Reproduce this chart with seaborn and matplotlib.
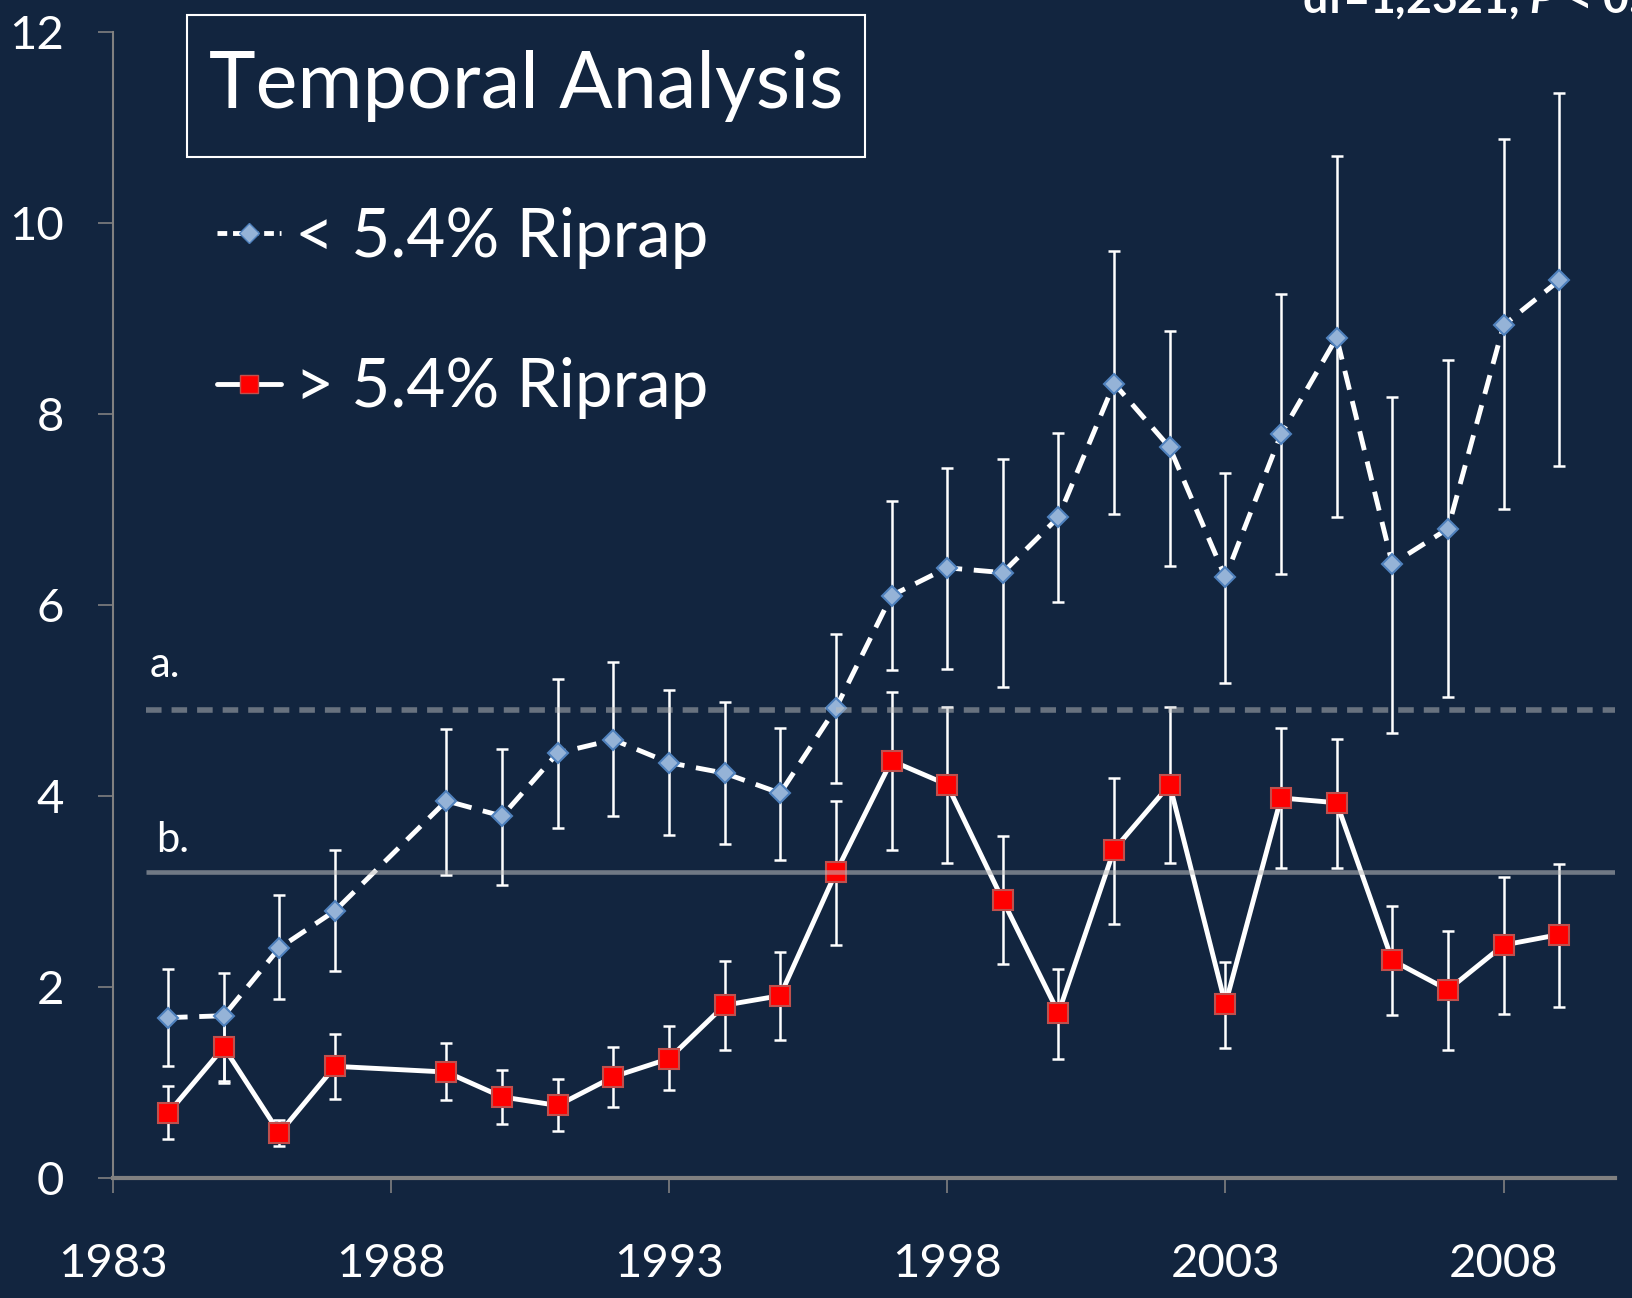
"""Temporal analysis chart: mean values by year for low vs high riprap shorelines."""
import matplotlib

matplotlib.use("Agg")
import matplotlib.pyplot as plt
import numpy as np
import pandas as pd
import seaborn as sns
from matplotlib.lines import Line2D
from matplotlib.patches import Rectangle

BG = "#12253f"

years = [1984, 1985, 1986, 1987, 1989, 1990, 1991, 1992, 1993, 1994, 1995, 1996, 1997,
         1998, 1999, 2000, 2001, 2002, 2003, 2004, 2005, 2006, 2007, 2008, 2009]

# < 5.4% riprap
low_mean = [1.68, 1.70, 2.41, 2.80, 3.95, 3.79, 4.45, 4.59, 4.35, 4.24, 4.03, 4.92, 6.10,
            6.39, 6.34, 6.92, 8.32, 7.65, 6.29, 7.79, 8.80, 6.43, 6.80, 8.93, 9.40]
low_upper = [2.19, 2.15, 2.96, 3.44, 4.70, 4.49, 5.23, 5.40, 5.11, 4.99, 4.71, 5.70, 7.09,
             7.44, 7.53, 7.80, 9.71, 8.87, 7.38, 9.26, 10.70, 8.18, 8.57, 10.88, 11.36]
low_lower = [1.17, 1.00, 1.87, 2.17, 3.17, 3.07, 3.67, 3.79, 3.59, 3.50, 3.33, 4.14, 5.32,
             5.33, 5.14, 6.03, 6.95, 6.41, 5.18, 6.33, 6.92, 4.66, 5.04, 7.01, 7.46]

# > 5.4% riprap
high_mean = [0.68, 1.37, 0.47, 1.17, 1.11, 0.85, 0.76, 1.06, 1.25, 1.81, 1.91, 3.20, 4.37,
             4.12, 2.91, 1.73, 3.44, 4.12, 1.82, 3.98, 3.93, 2.28, 1.97, 2.44, 2.55]
high_upper = [0.96, 1.70, 0.61, 1.51, 1.41, 1.13, 1.04, 1.37, 1.59, 2.27, 2.37, 3.95, 5.09,
              4.93, 3.58, 2.19, 4.19, 4.93, 2.26, 4.71, 4.60, 2.85, 2.59, 3.15, 3.29]
high_lower = [0.41, 1.02, 0.34, 0.83, 0.82, 0.57, 0.49, 0.74, 0.92, 1.34, 1.45, 2.44, 3.43,
              3.30, 2.24, 1.25, 2.66, 3.30, 1.36, 3.25, 3.25, 1.71, 1.34, 1.72, 1.79]

threshold_a = 4.9
threshold_b = 3.2
x_ticks = [1983, 1988, 1993, 1998, 2003, 2008]
y_ticks = [0, 2, 4, 6, 8, 10, 12]

sns.set_theme(style="ticks", rc={"axes.facecolor": BG, "figure.facecolor": BG})
plt.rcParams["font.family"] = ["Lato", "DejaVu Sans"]
plt.rcParams["mathtext.fontset"] = "custom"
plt.rcParams["mathtext.it"] = "Lato:italic:bold"
plt.rcParams["mathtext.rm"] = "Lato:bold"

low_df = pd.DataFrame({"year": years, "value": low_mean})
high_df = pd.DataFrame({"year": years, "value": high_mean})

fig = plt.figure(figsize=(16.33, 12.98), dpi=100)
ax = fig.add_axes([0.0689, 0.0924, 0.920, 0.8829])

# error bars sit under everything else
for mean, upper, lower in [(low_mean, low_upper, low_lower), (high_mean, high_upper, high_lower)]:
    m = np.array(mean)
    ax.errorbar(years, m, yerr=[m - np.array(lower), np.array(upper) - m], fmt="none",
                ecolor="white", elinewidth=1.8, capsize=4.5, capthick=1.8, zorder=2)

sns.lineplot(data=low_df, x="year", y="value", ax=ax, color="white", lw=3.5,
             linestyle=(0, (4, 2.4)), marker="D", markersize=10.5,
             markerfacecolor="#95b3d7", markeredgecolor="#4f81bd", markeredgewidth=1.5,
             zorder=3)
sns.lineplot(data=high_df, x="year", y="value", ax=ax, color="white", lw=3.5,
             marker="s", markersize=15, markerfacecolor="#ff0000",
             markeredgecolor="#c0504d", markeredgewidth=1.5, zorder=3)

# reference levels
ax.hlines(threshold_a, 1983.6, 2010, colors="#bfbfbf", alpha=0.5, lw=4,
          linestyles=(0, (2.8, 1.8)), zorder=4)
ax.hlines(threshold_b, 1983.6, 2010, colors="#bfbfbf", alpha=0.55, lw=3.3, zorder=4)
ax.text(1983.66, 5.25, "a.", color="white", fontsize=30)
ax.text(1983.78, 3.41, "b.", color="white", fontsize=30)

ax.set_xlim(1983, 2010)
ax.set_ylim(0, 12)
ax.set_xticks(x_ticks)
ax.set_yticks(y_ticks)
ax.set_xlabel("")
ax.set_ylabel("")
sns.despine(ax=ax)
ax.spines["left"].set_color("#808080")
ax.spines["left"].set_linewidth(1.5)
ax.spines["bottom"].set_color("#808080")
ax.spines["bottom"].set_linewidth(3)
ax.tick_params(axis="x", colors="#808080", labelcolor="white", labelsize=34,
               length=11, width=1.2, pad=36, direction="out")
ax.tick_params(axis="y", colors="#808080", labelcolor="white", labelsize=34,
               length=11, width=1.2, pad=24, direction="out")

# legend
handles = [
    Line2D([], [], color="white", lw=3.5, linestyle=(0, (2, 1.2)), marker="D",
           markersize=10, markerfacecolor="#95b3d7", markeredgecolor="#4f81bd"),
    Line2D([], [], color="white", lw=3.5, marker="s", markersize=13,
           markerfacecolor="#ff0000", markeredgecolor="#c0504d"),
]
ax.legend(handles, ["< 5.4% Riprap", "> 5.4% Riprap"], loc="upper left",
          bbox_to_anchor=(0.133, 0.8405), bbox_transform=fig.transFigure,
          frameon=False, fontsize=48.5, handlelength=0.95, handletextpad=0.2,
          labelspacing=1.31, borderpad=0, borderaxespad=0, labelcolor="white")

# title box
fig.patches.append(Rectangle((187.5 / 1633, 1 - 157 / 1298), 678 / 1633, 142 / 1298,
                             transform=fig.transFigure, fill=False, edgecolor="white",
                             lw=1.5))
fig.text(526.5 / 1633, 1 - 86 / 1298, "Temporal Analysis", color="white", fontsize=57,
         ha="center", va="center")

fig.text(1302 / 1633, 1 - 13 / 1298, "df=1,2321, $P$ < 0.001", color="white",
         fontsize=32, fontweight="bold", va="baseline")

fig.savefig("out.png", dpi=100, facecolor=BG)
